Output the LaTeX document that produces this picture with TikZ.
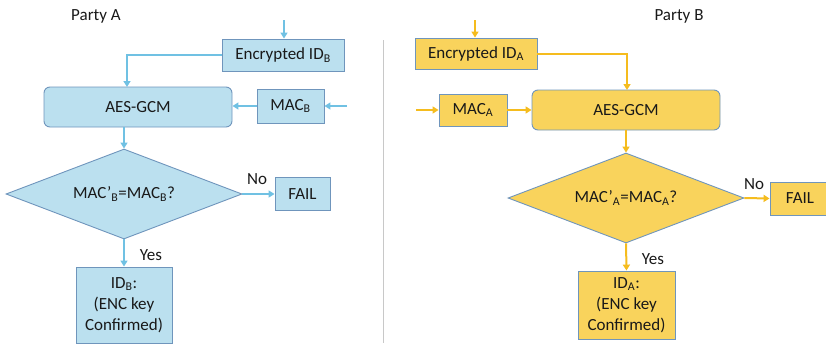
\documentclass[tikz,border=0pt]{standalone}
\usepackage{fontspec}
\setmainfont{Carlito}
\usetikzlibrary{arrows.meta,shapes.geometric}
\definecolor{bluefill}{HTML}{BBE0EF}
\definecolor{blueline}{HTML}{70C1E3}
\definecolor{boxedge}{HTML}{6F95BC}
\definecolor{goldfill}{HTML}{F9D35C}
\definecolor{goldline}{HTML}{F5BC1E}
\definecolor{divider}{HTML}{C8C8C8}
\begin{document}
\begin{tikzpicture}[x=1pt,y=-1pt,
  every node/.style={font=\fontsize{17}{21}\selectfont, text=black!90, inner sep=0pt},
  boxA/.style={draw=boxedge, line width=0.9pt, fill=bluefill, align=center},
  boxB/.style={draw=boxedge, line width=0.9pt, fill=goldfill, align=center},
  rbox/.style={rounded corners=6pt},
  decision/.style={diamond, aspect=2.6},
  flowA/.style={draw=blueline, line width=2pt, -{Triangle[length=6pt,width=7pt]}},
  flowB/.style={draw=goldline, line width=2pt, -{Triangle[length=6pt,width=7pt]}},
  linkA/.style={draw=blueline, line width=2pt},
  linkB/.style={draw=goldline, line width=2pt},
  lbl/.style={}]
\useasboundingbox (0,0) rectangle (826,343);
\clip (0,0) rectangle (826,343);

% divider between the two parties
\draw[divider, line width=1pt] (383,40) -- (383,343);

% ---------- Party A ----------
\node[lbl] (titleA) at (96,16) {Party A};
\node[boxA, minimum width=122, minimum height=32] (encB) at (283,55) {Encrypted ID\textsubscript{B}};
\node[boxA, rbox, minimum width=188, minimum height=40] (aesB) at (138,107) {AES-GCM};
\node[boxA, minimum width=67, minimum height=34] (macB) at (290.5,106) {MAC\textsubscript{B}};
\node[boxA, decision, minimum width=236, minimum height=90] (decB) at (124,194) {MAC’\textsubscript{B}=MAC\textsubscript{B}?};
\node[boxA, minimum width=55, minimum height=33] (failB) at (302.5,194) {FAIL};
\node[boxA, minimum width=96, minimum height=76] (idB) at (124,305) {ID\textsubscript{B}:\\(ENC key\\Confirmed)};
\coordinate (inB) at (284,20);
\coordinate (inMacB) at (347,106);

\draw[flowA] (inB) -- (inB |- encB.north);
\draw[linkA] (encB.west) -| (127,80);
\draw[flowA] (127,78) -- (127,87);
\draw[flowA] (inMacB) -- (macB.east);
\draw[flowA] (macB.west) -- (macB.west -| aesB.east);
\draw[flowA] (aesB.south -| decB.north) -- (decB.north);
\draw[flowA] (decB.east) -- (failB.west);
\draw[flowA] (decB.south) -- (idB.north);
\node[lbl] (noB) at (257,179) {No};
\node[lbl] (yesB) at (151,255) {Yes};

% ---------- Party B ----------
\node[lbl] (titleB) at (679,16) {Party B};
\node[boxB, minimum width=122, minimum height=31] (encA) at (476,53.5) {Encrypted ID\textsubscript{A}};
\node[boxB, rbox, minimum width=188, minimum height=40] (aesA) at (626,110) {AES-GCM};
\node[boxB, minimum width=68, minimum height=32] (macA) at (473,110) {MAC\textsubscript{A}};
\node[boxB, decision, minimum width=236, minimum height=90] (decA) at (626,198) {MAC’\textsubscript{A}=MAC\textsubscript{A}?};
\node[boxB, minimum width=60, minimum height=33] (failA) at (800,198.5) {FAIL};
\node[boxB, minimum width=97, minimum height=68] (idA) at (626.5,305) {ID\textsubscript{A}:\\(ENC key\\Confirmed)};
\coordinate (inA) at (475,20);
\coordinate (inMacA) at (416,110);

\draw[flowB] (inA) -- (inA |- encA.north);
\draw[linkB] (encA.east) -| (627,80);
\draw[flowB] (627,78) -- (627,90);
\draw[flowB] (inMacA) -- (macA.west);
\draw[flowB] (macA.east) -- (aesA.west);
\draw[flowB] (aesA.south -| decA.north) -- (decA.north);
\draw[flowB] (decA.east) -- (failA.west);
\draw[flowB] (decA.south) -- (idA.north);
\node[lbl] (noA) at (754,184) {No};
\node[lbl] (yesA) at (653,259) {Yes};
\end{tikzpicture}
\end{document}
